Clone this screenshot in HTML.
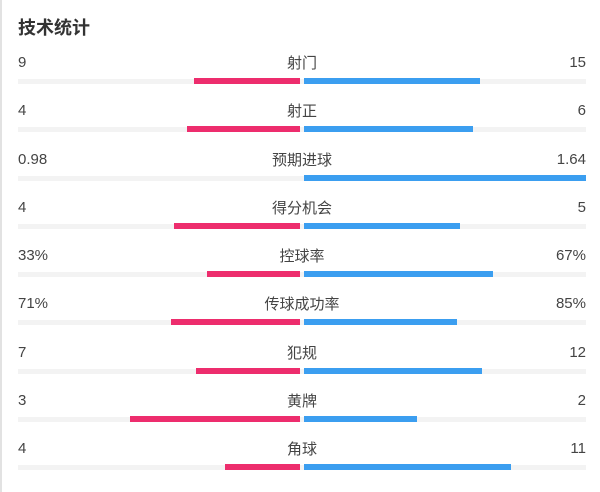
<!DOCTYPE html>
<html><head><meta charset="utf-8"><style>
html,body{margin:0;padding:0;}
body{width:600px;height:492px;background:#fff;position:relative;overflow:hidden;font-family:"Liberation Sans","Noto Sans CJK SC",sans-serif;color:#444;}
.bl{position:absolute;left:0;top:0;width:2px;height:492px;background:#e2e2e2;}
.title{position:absolute;left:18px;top:16px;font-size:18px;font-weight:bold;color:#333;line-height:24px;font-family:"Liberation Sans","Noto Sans CJK SC",sans-serif;}
.row{position:absolute;left:0;width:600px;height:40px;}
.l,.r,.c{position:absolute;top:0;font-size:15px;line-height:20px;}
.l{left:18px;}
.r{right:14px;text-align:right;}
.c{left:202px;width:200px;text-align:center;font-size:15px;font-family:"Noto Sans CJK SC",sans-serif;}
.t{position:absolute;left:18px;width:568px;top:26px;height:5px;background:#f3f3f3;}
.p{position:absolute;top:25px;height:6px;background:#ed2d6d;}
.b{position:absolute;top:25px;height:6px;background:#3b9ef0;left:303.5px;}
</style></head><body>
<div class="bl"></div>
<div class="title">技术统计</div>

<div class="row" style="top:53px"><div class="l">9</div><div class="c">射门</div><div class="r">15</div><div class="t"></div><div class="p" style="left:194px;width:106px"></div><div class="b" style="width:176.5px"></div></div>
<div class="row" style="top:101.25px"><div class="l">4</div><div class="c">射正</div><div class="r">6</div><div class="t"></div><div class="p" style="left:187px;width:113px"></div><div class="b" style="width:169.5px"></div></div>
<div class="row" style="top:149.5px"><div class="l">0.98</div><div class="c">预期进球</div><div class="r">1.64</div><div class="t"></div><div class="b" style="width:282px"></div></div>
<div class="row" style="top:197.75px"><div class="l">4</div><div class="c">得分机会</div><div class="r">5</div><div class="t"></div><div class="p" style="left:174px;width:126px"></div><div class="b" style="width:156.5px"></div></div>
<div class="row" style="top:246px"><div class="l">33%</div><div class="c">控球率</div><div class="r">67%</div><div class="t"></div><div class="p" style="left:207px;width:93px"></div><div class="b" style="width:189.5px"></div></div>
<div class="row" style="top:294.25px"><div class="l">71%</div><div class="c">传球成功率</div><div class="r">85%</div><div class="t"></div><div class="p" style="left:171px;width:129px"></div><div class="b" style="width:153.5px"></div></div>
<div class="row" style="top:342.5px"><div class="l">7</div><div class="c">犯规</div><div class="r">12</div><div class="t"></div><div class="p" style="left:196px;width:104px"></div><div class="b" style="width:178.5px"></div></div>
<div class="row" style="top:390.75px"><div class="l">3</div><div class="c">黄牌</div><div class="r">2</div><div class="t"></div><div class="p" style="left:130px;width:170px"></div><div class="b" style="width:113px"></div></div>
<div class="row" style="top:439px"><div class="l">4</div><div class="c">角球</div><div class="r">11</div><div class="t"></div><div class="p" style="left:225px;width:75px"></div><div class="b" style="width:207.5px"></div></div>
</body></html>
